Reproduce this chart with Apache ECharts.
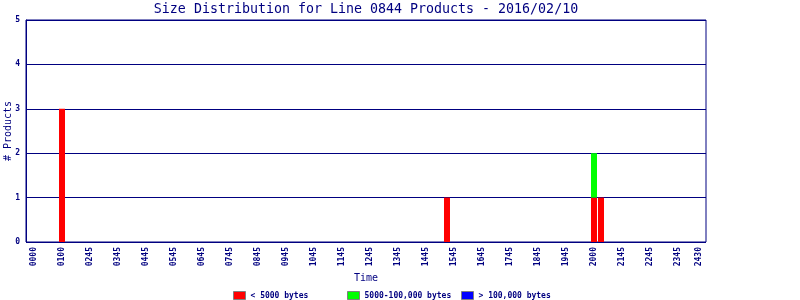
<!DOCTYPE html>
<html>
<head>
<meta charset="utf-8">
<script src="https://cdn.jsdelivr.net/npm/echarts@6/dist/echarts.min.js"></script>
<style>html,body{margin:0;padding:0;background:#fff}#c{width:800px;height:300px}</style>
</head>
<body>
<div id="c"></div>
<script>
// 15-minute bins over the day (96 bins)
const binCount = 96;
const bins = [];
for (let i = 0; i < binCount; i++) {
  const h = Math.floor(i / 4), m = (i % 4) * 15;
  bins.push(String(h).padStart(2, '0') + String(m).padStart(2, '0'));
}
// tick labels as printed on the reference, and the bins they sit on
const tickLabels = ['0000','0100','0245','0345','0445','0545','0645','0745','0845','0945','1045','1145','1245','1345','1445','1545','1645','1745','1845','1945','2000','2145','2245','2345','2430'];
const tickBins = [0,4,8,12,16,20,24,28,32,36,40,44,48,52,56,60,64,68,72,76,80,84,88,92,95];
// series values: [binIndex, count]
const small = [[4,3],[59,1],[80,1],[81,1]];
const medium = [[80,1]];
const large = [];
const seriesNames = ['< 5000 bytes','5000-100,000 bytes','> 100,000 bytes'];
const yTicks = [0,1,2,3,4,5];

const navy = '#000080';
const font = 'DejaVu Sans Mono';
const labelMap = {};
tickBins.forEach((b, i) => labelMap[b] = tickLabels[i]);

const chart = echarts.init(document.getElementById('c'), null, {renderer: 'canvas'});
const legendBase = {
  orient: 'horizontal', top: 291, padding: 0, itemWidth: 12, itemHeight: 8, itemGap: 4,
  icon: 'rect', selectedMode: false,
  itemStyle: {borderColor: '#808080', borderWidth: 1},
  textStyle: {fontFamily: font, fontSize: 8, color: navy, fontWeight: 'bold', padding: [0,0,0,0]}
};
chart.setOption({
  animation: false,
  title: {
    text: 'Size Distribution for Line 0844 Products - 2016/02/10',
    left: 366, top: 3, padding: 0, textAlign: 'center',
    textStyle: {fontFamily: font, fontSize: 13.3, fontWeight: 'normal', color: navy}
  },
  legend: [
    Object.assign({}, legendBase, {left: 233, data: [seriesNames[0]]}),
    Object.assign({}, legendBase, {left: 347, data: [seriesNames[1]]}),
    Object.assign({}, legendBase, {left: 461, data: [seriesNames[2]]})
  ],
  grid: [
    {left: 26, right: 94, top: 20, bottom: 58, show: true, borderColor: navy, borderWidth: 1,
     backgroundColor: 'transparent', containLabel: false, outerBoundsMode: 'none'},
    {left: 30.5, width: 672, top: 20, bottom: 58, containLabel: false, outerBoundsMode: 'none'}
  ],
  xAxis: [
    {type: 'value', gridIndex: 0, min: 0, max: 1, show: true,
     axisLine: {show: false}, axisTick: {show: false}, axisLabel: {show: false}, splitLine: {show: false},
     name: 'Time', nameLocation: 'middle', nameGap: 31, nameMoveOverlap: false,
     nameTextStyle: {fontFamily: font, fontSize: 10, color: navy}},
    {type: 'category', gridIndex: 1, data: bins, boundaryGap: true,
     axisLine: {show: false}, axisTick: {show: false}, splitLine: {show: false},
     axisLabel: {
       interval: (i) => labelMap[i] !== undefined,
       formatter: (v, i) => labelMap[i] || '',
       rotate: 90, margin: 5,
       fontFamily: font, fontSize: 8, fontWeight: 'bold', color: navy
     }}
  ],
  yAxis: [
    {type: 'value', gridIndex: 0, min: yTicks[0], max: yTicks[yTicks.length-1], interval: 1,
     axisLine: {show: true, lineStyle: {color: navy}}, axisTick: {show: false},
     axisLabel: {fontFamily: font, fontSize: 8, fontWeight: 'bold', color: navy, margin: 6},
     splitLine: {show: true, lineStyle: {color: navy, width: 1}},
     name: '# Products', nameLocation: 'middle', nameGap: 13, nameRotate: 90, nameMoveOverlap: false,
     nameTextStyle: {fontFamily: font, fontSize: 10, color: navy}},
    {type: 'value', gridIndex: 1, min: 0, max: 5, interval: 1, show: false}
  ],
  series: [
    {name: seriesNames[0], type: 'bar', xAxisIndex: 1, yAxisIndex: 1, stack: 's', barWidth: 6, data: small,
     itemStyle: {color: '#ff0000'}, z: 3},
    {name: seriesNames[1], type: 'bar', xAxisIndex: 1, yAxisIndex: 1, stack: 's', barWidth: 6, data: medium,
     itemStyle: {color: '#00ff00'}, z: 3},
    {name: seriesNames[2], type: 'bar', xAxisIndex: 1, yAxisIndex: 1, stack: 's', barWidth: 6, data: large,
     itemStyle: {color: '#0000ff'}, z: 3}
  ]
});
</script>
</body>
</html>
